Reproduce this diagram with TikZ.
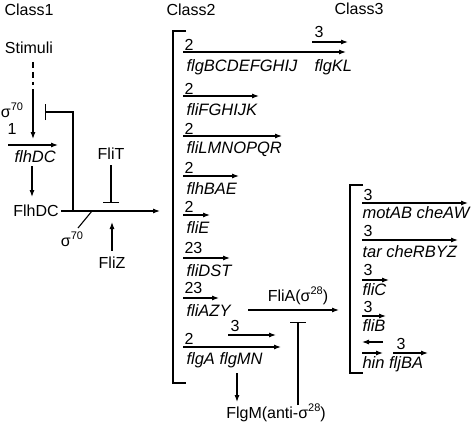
\documentclass[tikz,border=0pt]{standalone}
\usepackage{fontspec}
\setmainfont{Liberation Sans}
\usetikzlibrary{arrows.meta}
\newcommand{\sig}[1]{σ\raisebox{0.45em}{\fontsize{11}{12}\selectfont #1}}
\begin{document}
\begin{tikzpicture}[x=1pt,y=-1pt,line width=1.1pt,
  >={Latex[length=7pt,width=5pt]},
  every node/.style={font=\fontsize{16}{18}\selectfont,inner sep=0pt},
  lab/.style={anchor=west},
  gene/.style={anchor=west,font=\fontsize{16.5}{18}\selectfont\itshape},
  inhib/.style={-{Bar[width=16pt]}}]
\useasboundingbox (0,0) rectangle (474,428);
% class headers
\node[lab] (c1) at (4,10) {Class1};
\node[lab] (c2) at (166,10) {Class2};
\node[lab] (c3) at (334,9) {Class3};
% class 1
\node (stim) at (29,48) {Stimuli};
\coordinate (d1) at (33,62);
\coordinate (d2) at (33,85);
\draw[dash pattern=on 6pt off 4pt] (d1) -- (d2);
\coordinate (s1) at (33,89);
\coordinate (s2) at (33,139);
\draw[->] (s1) -- (s2);
\node (sig1) at (12,110) {\sig{70}};
\node (one) at (12,129) {1};
\draw[->] (8,145) -- (58,145);
\node[gene] (flhDCg) at (14,157) {flhDC};
\draw[->] (32,166) -- (32,197);
\node (FlhDC) at (36,211) {FlhDC};
\coordinate (main) at (160,211);
\draw[->] (FlhDC.east) ++(2,0) -- (main);
\coordinate (iv) at (73,211);
\coordinate (ic) at (73,112);
\coordinate (ib) at (45,112);
\draw[inhib] (iv) -- (ic) -- (ib);
\draw (92,211) -- (78,228);
\node (sig2) at (72,239) {\sig{70}};
\node (FliT) at (111,154) {FliT};
\draw[inhib] (FliT.south) ++(0,5) -- (111,203);
\node (FliZ) at (112,263) {FliZ};
\draw[->] (FliZ.north) ++(0,-6) -- (112,222);
% class 2 bracket
\draw (186,31) -- (173,31) -- (173,383) -- (186,383);
% class 2 genes
\node[lab] (n1) at (184,45) {2};
\draw[->] (183,52) -- (346,52);
\node[gene] (g1) at (186,67) {flgBCDEFGHIJ};
\node[lab] (n1b) at (314,32) {3};
\draw[->] (312,42) -- (348,42);
\node[gene] (g1b) at (314,67) {flgKL};

\node[lab] (n2) at (184,89) {2};
\draw[->] (183,96) -- (259,96);
\node[gene] (g2) at (186,110) {fliFGHIJK};

\node[lab] (n3) at (184,129) {2};
\draw[->] (183,136) -- (282,136);
\node[gene] (g3) at (186,149) {fliLMNOPQR};

\node[lab] (n4) at (184,168) {2};
\draw[->] (183,176) -- (239,176);
\node[gene] (g4) at (186,189) {flhBAE};

\node[lab] (n5) at (184,207) {2};
\draw[->] (183,215) -- (210,215);
\node[gene] (g5) at (186,228) {fliE};

\node[lab] (n6) at (184,248) {23};
\draw[->] (183,258) -- (230,258);
\node[gene] (g6) at (186,271) {fliDST};

\node[lab] (n7) at (184,288) {23};
\draw[->] (183,298) -- (219,298);
\node[gene] (g7) at (186,311) {fliAZY};

\node[lab] (n8b) at (230,326) {3};
\draw[->] (228,335) -- (276,335);
\node[lab] (n8) at (184,339) {2};
\draw[->] (183,347) -- (281,347);
\node[gene] (g8) at (186,360) {flgA flgMN};

\node (FlgM) at (276,413) {FlgM(anti-\sig{28})};
\draw[->] (237,373) -- (237,402);
\node (FliA) at (298,296) {FliA(\sig{28})};
\coordinate (fa1) at (248,310);
\coordinate (fa2) at (339,310);
\draw[->] (fa1) -- (fa2);
\coordinate (fm1) at (298,405);
\coordinate (fm2) at (298,322);
\draw[inhib] (fm1) -- (fm2);
% class 3 bracket
\draw (363,185) -- (350,185) -- (350,373) -- (363,373);
\node[lab] (m1) at (363,195) {3};
\draw[->] (362,203) -- (468,203);
\node[gene] (h1) at (362,213) {motAB cheAW};
\node[lab] (m2) at (363,231) {3};
\draw[->] (362,240) -- (458,240);
\node[gene] (h2) at (362,252) {tar cheRBYZ};
\node[lab] (m3) at (363,270) {3};
\draw[->] (362,280) -- (389,280);
\node[gene] (h3) at (362,290) {fliC};
\node[lab] (m4) at (363,307) {3};
\draw[->] (362,316) -- (386,316);
\node[gene] (h4) at (362,326) {fliB};
\draw[->] (383,342) -- (362,342);
\draw[->] (362,353) -- (383,353);
\node[lab] (m5) at (396,344) {3};
\draw[->] (393,353) -- (428,353);
\node[gene] (h5) at (362,364) {hin fljBA};
\end{tikzpicture}
\end{document}
